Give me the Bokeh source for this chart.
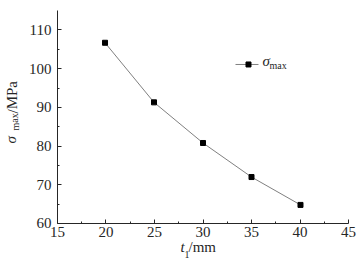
from bokeh.plotting import figure
from bokeh.models import Label, Range1d, FixedTicker
from bokeh.embed import file_html
from bokeh.resources import INLINE

t1 = [19.9, 24.95, 30.0, 35.0, 40.05]
sigma_max = [106.7, 91.3, 80.8, 72.0, 64.8]
x_ticks = [15, 20, 25, 30, 35, 40, 45]
x_minor = [17.5, 22.5, 27.5, 32.5, 37.5, 42.5]
y_ticks = [60, 70, 80, 90, 100, 110]
y_minor = [65, 75, 85, 95, 105]

FONT = "Liberation Serif"
INK = "#262626"
LINE = "#808080"

# frame covers the whole canvas; axes sit at fixed data locations
p = figure(width=363, height=263, output_backend="svg", toolbar_location=None,
           x_range=Range1d(9.124, 46.546), y_range=Range1d(49.66, 117.62),
           min_border=0)
p.outline_line_color = None
p.grid.visible = False
p.background_fill_color = "white"

xa, ya = p.xaxis[0], p.yaxis[0]
xa.fixed_location = 60
ya.fixed_location = 15
xa.bounds = (15, 45)
ya.bounds = (60, 115)
for ax in (xa, ya):
    ax.major_label_text_font = FONT
    ax.major_label_text_font_size = "15px"
    ax.major_label_text_color = INK
    ax.axis_line_color = INK
    ax.major_tick_line_color = INK
    ax.minor_tick_line_color = INK
    ax.major_tick_in = 4
    ax.major_tick_out = 0
    ax.minor_tick_in = 2
    ax.minor_tick_out = 0
xa.ticker = FixedTicker(ticks=x_ticks, minor_ticks=x_minor)
ya.ticker = FixedTicker(ticks=y_ticks, minor_ticks=y_minor)
xa.major_label_standoff = 4
ya.major_label_standoff = 6

p.line(t1, sigma_max, line_color=LINE, line_width=1)
p.scatter(t1, sigma_max, marker="square", size=5, fill_color="black", line_color="black")

# legend: sample line + marker, then σ_max
p.line([33.35, 35.72], [101.09, 101.09], line_color=LINE, line_width=1)
p.scatter([34.69], [101.09], marker="square", size=5, fill_color="black", line_color="black")
p.add_layout(Label(x=262, y=195, x_units="screen", y_units="screen", text="σ",
                   text_font=FONT, text_font_style="italic", text_font_size="15px",
                   text_color=INK))
p.add_layout(Label(x=269, y=193, x_units="screen", y_units="screen", text="max",
                   text_font=FONT, text_font_size="10px", text_color=INK))

# y axis title: σ_max/MPa (rotated)
p.add_layout(Label(x=18, y=120, x_units="screen", y_units="screen", text="σ",
                   text_font=FONT, text_font_style="italic", text_font_size="15px",
                   text_color=INK, angle=1.5708))
p.add_layout(Label(x=20, y=133, x_units="screen", y_units="screen", text="max",
                   text_font=FONT, text_font_size="10px",
                   text_color=INK, angle=1.5708))
p.add_layout(Label(x=20, y=150, x_units="screen", y_units="screen", text="/MPa",
                   text_font=FONT, text_font_size="15px",
                   text_color=INK, angle=1.5708))

# x axis title: t_1/mm
p.add_layout(Label(x=180, y=9, x_units="screen", y_units="screen", text="t",
                   text_font=FONT, text_font_style="italic", text_font_size="15px",
                   text_color=INK))
p.add_layout(Label(x=184, y=6, x_units="screen", y_units="screen", text="1",
                   text_font=FONT, text_font_size="10px", text_color=INK))
p.add_layout(Label(x=188, y=9, x_units="screen", y_units="screen", text="/mm",
                   text_font=FONT, text_font_size="15px", text_color=INK))

open("out.html", "w").write(file_html(p, INLINE))
